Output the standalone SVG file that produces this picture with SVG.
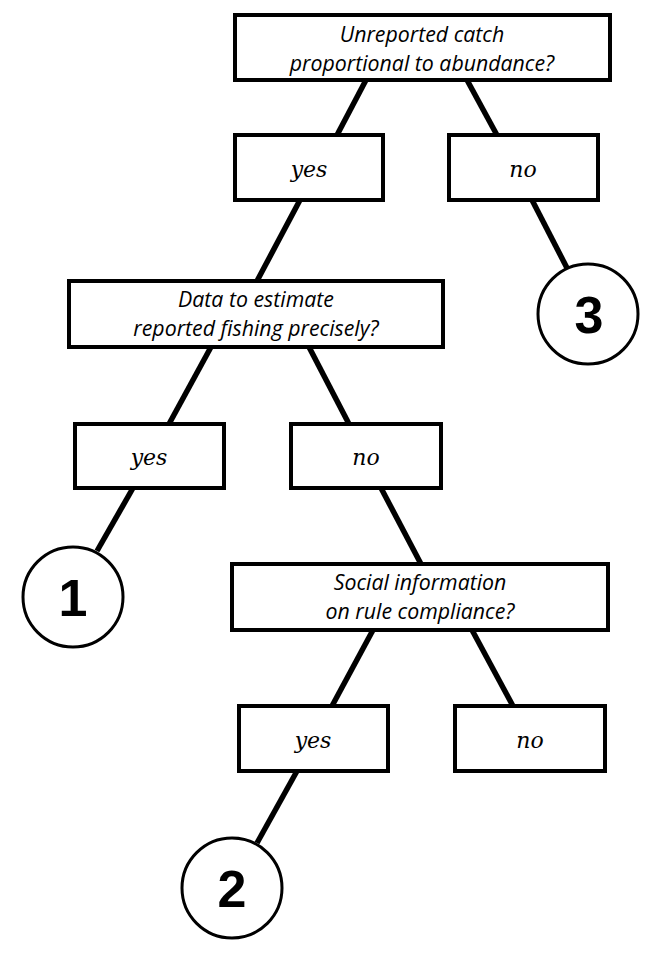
<svg xmlns="http://www.w3.org/2000/svg" width="672" height="960" viewBox="0 0 672 960">
<style>
.box{fill:#fff;stroke:#000;stroke-width:4}
.q{font-family:"Open Sans","Liberation Sans",sans-serif;font-style:italic;font-size:21.3px;fill:#000;text-anchor:middle}
.a{font-family:"DejaVu Serif","Liberation Serif",serif;font-style:italic;font-size:22px;fill:#000;text-anchor:middle}
.c{fill:#fff;stroke:#000;stroke-width:3}
.n{font-family:"Liberation Sans","Open Sans",sans-serif;font-weight:bold;font-size:52px;fill:#000;text-anchor:middle}
.conn line{stroke:#000;stroke-width:5.5}
</style>
<rect width="672" height="960" fill="#fff"/>
<g id="connectors" class="conn">
<line x1="366" y1="80" x2="336" y2="137"/>
<line x1="467" y1="80" x2="498" y2="137"/>
<line x1="300" y1="200" x2="257" y2="281"/>
<line x1="532" y1="200" x2="567" y2="268"/>
<line x1="211" y1="347" x2="169" y2="424"/>
<line x1="309" y1="347" x2="349" y2="424"/>
<line x1="133" y1="488" x2="97" y2="551"/>
<line x1="381" y1="488" x2="421" y2="564"/>
<line x1="373" y1="630" x2="332" y2="706"/>
<line x1="472" y1="630" x2="513" y2="706"/>
<line x1="297" y1="771" x2="257" y2="843"/>
</g>
<g id="q1"><rect class="box" x="235" y="15" width="375" height="65"/><text class="q" x="422" y="42">Unreported catch</text><text class="q" x="422" y="71">proportional to abundance?</text></g>
<g id="yes1"><rect class="box" x="235" y="135" width="148" height="65"/><text class="a" x="309" y="177">yes</text></g>
<g id="no1"><rect class="box" x="449" y="135" width="149" height="65"/><text class="a" x="523" y="177">no</text></g>
<g id="end3"><circle class="c" cx="588" cy="314" r="50"/><text class="n" x="589" y="333">3</text></g>
<g id="q2"><rect class="box" x="69" y="281" width="374" height="66"/><text class="q" x="256" y="307">Data to estimate</text><text class="q" x="256" y="336">reported fishing precisely?</text></g>
<g id="yes2"><rect class="box" x="75" y="424" width="149" height="64"/><text class="a" x="149" y="465">yes</text></g>
<g id="no2"><rect class="box" x="291" y="424" width="150" height="64"/><text class="a" x="366" y="465">no</text></g>
<g id="end1"><circle class="c" cx="73" cy="597" r="50"/><text class="n" x="73" y="616">1</text></g>
<g id="q3"><rect class="box" x="232" y="564" width="376" height="66"/><text class="q" x="420" y="590">Social information</text><text class="q" x="420" y="619">on rule compliance?</text></g>
<g id="yes3"><rect class="box" x="239" y="706" width="149" height="65"/><text class="a" x="313" y="748">yes</text></g>
<g id="no3"><rect class="box" x="455" y="706" width="150" height="65"/><text class="a" x="530" y="748">no</text></g>
<g id="end2"><circle class="c" cx="232" cy="888" r="50"/><text class="n" x="232" y="907">2</text></g>
</svg>
